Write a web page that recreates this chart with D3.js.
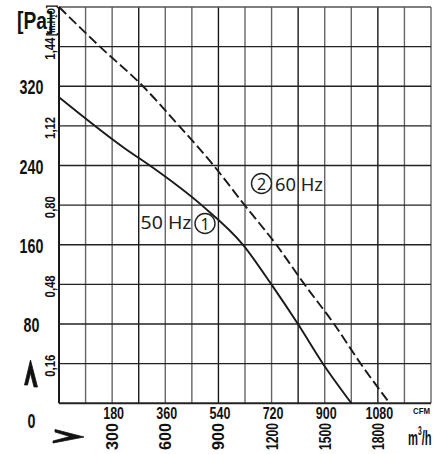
<!DOCTYPE html>
<html>
<head>
<meta charset="utf-8">
<script src="https://cdn.jsdelivr.net/npm/d3@7"></script>
<style>
  html, body { margin: 0; padding: 0; background: #fff; }
  svg { display: block; }
  .num { font-family: "Liberation Sans", Arial, sans-serif; font-weight: bold; fill: #111; }
  .lbl { font-family: "Noto Sans", "DejaVu Sans", sans-serif; fill: #222; }
</style>
</head>
<body>
<svg id="chart" width="434" height="454"></svg>
<script>
// ---- data ----
const flow50 = [0, 382, 513, 805, 1039, 1199, 1349, 1490, 1651];      // m³/h
const pres50 = [309, 256, 240, 200, 160, 120, 80, 40, 0];             // Pa
const flow60 = [0, 231, 474, 678, 873, 1048, 1227, 1386, 1553, 1703, 1867];
const pres60 = [400, 360, 320, 280, 240, 200, 160, 120, 80, 40, 0];
const paTicks = [0, 80, 160, 240, 320];
const inTicks = [0.16, 0.48, 0.80, 1.12, 1.44];
const cfmTicks = [180, 360, 540, 720, 900, 1080];
const m3hTicks = [300, 600, 900, 1200, 1500, 1800];
const seriesNames = ["50 Hz", "60 Hz"];
const seriesMarks = ["1", "2"];

const svg = d3.select("#chart");
const L = 59, R = 431, T = 7, B = 403.3;

const x = d3.scaleLinear().domain([0, 2100]).range([L, R]);
const xCfm = d3.scaleLinear().domain([0, 1260]).range([L, R]);
const y = d3.scaleLinear().domain([0, 400]).range([B, T]);
const yIn = d3.scaleLinear().domain([0, 1.6]).range([B, T]);

function condense(sel, k) {
  sel.each(function () {
    const w = this.getComputedTextLength();
    d3.select(this).attr("textLength", w * k).attr("lengthAdjust", "spacingAndGlyphs");
  });
}

// ---- grid ----
const g = svg.append("g");
const vTicks = d3.range(0, 2101, 150);
g.selectAll("line.v").data(vTicks).join("line")
  .attr("x1", d => x(d)).attr("x2", d => x(d))
  .attr("y1", T).attr("y2", B)
  .attr("stroke", (d, i) => (i % 3 === 0 && i < 14) ? "#1a1a1a" : "#666")
  .attr("stroke-width", (d, i) => i === 0 ? 2 : 1.4);
const hTicks = d3.range(0, 401, 40);
g.selectAll("line.h").data(hTicks).join("line")
  .attr("x1", L).attr("x2", R)
  .attr("y1", d => y(d)).attr("y2", d => y(d))
  .attr("stroke", (d, i) => i === 10 ? "#555" : "#222")
  .attr("stroke-width", d => d === 0 ? 2 : 1.4);

// ---- curves ----
const line = d3.line().x(d => x(d[0])).y(d => y(d[1])).curve(d3.curveMonotoneX);
const d50 = flow50.map((q, i) => [q, pres50[i]]);
const d60 = flow60.map((q, i) => [q, pres60[i]]);
svg.append("path").attr("d", line(d60)).attr("fill", "none")
  .attr("stroke", "#1a1a1a").attr("stroke-width", 1.9).attr("stroke-dasharray", "10,4");
svg.append("path").attr("d", line(d50)).attr("fill", "none")
  .attr("stroke", "#1a1a1a").attr("stroke-width", 1.9);

// ---- series labels ----
svg.append("text").attr("class", "lbl").attr("x", 140.5).attr("y", 228.5)
  .attr("font-size", 18).attr("textLength", 51).attr("lengthAdjust", "spacingAndGlyphs")
  .text(seriesNames[0]);
svg.append("circle").attr("cx", 205).attr("cy", 223.5).attr("r", 10)
  .attr("fill", "#fff").attr("stroke", "#222").attr("stroke-width", 1.4);
svg.append("text").attr("class", "lbl").attr("x", 205).attr("y", 229.5)
  .attr("text-anchor", "middle").attr("font-size", 16).text(seriesMarks[0]);

svg.append("circle").attr("cx", 261.5).attr("cy", 183.5).attr("r", 10)
  .attr("fill", "#fff").attr("stroke", "#222").attr("stroke-width", 1.4);
svg.append("text").attr("class", "lbl").attr("x", 261.5).attr("y", 189.5)
  .attr("text-anchor", "middle").attr("font-size", 16).text(seriesMarks[1]);
svg.append("text").attr("class", "lbl").attr("x", 275).attr("y", 191)
  .attr("font-size", 18).attr("textLength", 48).attr("lengthAdjust", "spacingAndGlyphs")
  .text(seriesNames[1]);

// ---- Pa axis labels ----
svg.selectAll("text.pa").data(paTicks).join("text")
  .attr("class", "num pa")
  .attr("x", 31.5)
  .attr("y", d => d === 0 ? y(0) + 25 : y(d) + 8)
  .attr("text-anchor", "middle")
  .attr("font-size", 21)
  .text(d => d)
  .call(condense, 0.68);

svg.append("g").attr("transform", "translate(17,29) scale(0.8,1)")
  .append("text").attr("class", "num")
  .attr("font-size", 24)
  .text("[Pa]");

// ---- in.H2O labels (rotated) ----
const fmtIn = v => d3.format(".2f")(v).replace(".", ",");
svg.selectAll("text.inw").data(inTicks).join("text")
  .attr("class", "num inw")
  .attr("transform", d => `translate(55,${yIn(d) + 2}) rotate(-90)`)
  .attr("text-anchor", "middle")
  .attr("font-size", 14)
  .attr("textLength", 22).attr("lengthAdjust", "spacingAndGlyphs")
  .text(fmtIn);

const inUnit = svg.append("text").attr("class", "num")
  .attr("transform", "translate(55,36) rotate(-90)")
  .attr("font-size", 11);
inUnit.append("tspan").attr("font-size", 13).text("[");
inUnit.append("tspan").text("in.H");
inUnit.append("tspan").attr("font-size", 7).attr("dy", 2).text("2");
inUnit.append("tspan").attr("dy", -2).text("O");
inUnit.append("tspan").attr("font-size", 13).text("]");
inUnit.attr("textLength", 31).attr("lengthAdjust", "spacingAndGlyphs");

// ---- CFM labels ----
svg.selectAll("text.cfm").data(cfmTicks).join("text")
  .attr("class", "num cfm")
  .attr("x", d => xCfm(d) + 1.5)
  .attr("y", 418.5)
  .attr("text-anchor", "middle")
  .attr("font-size", 16)
  .text(d => d)
  .call(condense, 0.78);

svg.append("text").attr("class", "num").attr("x", 413).attr("y", 413.5)
  .attr("font-size", 9)
  .attr("textLength", 17).attr("lengthAdjust", "spacingAndGlyphs").text("CFM");

// ---- m³/h labels (rotated) ----
svg.selectAll("text.m3h").data(m3hTicks).join("text")
  .attr("class", "num m3h")
  .attr("transform", d => `translate(${x(d) + 6},436.5) rotate(-90)`)
  .attr("text-anchor", "middle")
  .attr("font-size", 17)
  .attr("textLength", 27).attr("lengthAdjust", "spacingAndGlyphs")
  .text(d => d);

const mu = svg.append("g").attr("transform", "translate(408,445) scale(0.56,1)")
  .append("text").attr("class", "num").attr("font-size", 20);
mu.append("tspan").text("m");
mu.append("tspan").attr("font-size", 12).attr("dy", -10).text("3");
mu.append("tspan").attr("dy", 10).text("/h");

// ---- direction arrows ----
svg.append("path")
  .attr("d", "M30.5,360 L37.5,387 L34,387 L30.5,373 L27.5,385 L24.5,385 Z")
  .attr("fill", "#111").attr("stroke", "#111").attr("stroke-width", 0.8).attr("stroke-linejoin", "round");
svg.append("path")
  .attr("d", "M84,437 L55,429.5 L55,432 L70,436.5 L53,441 L53,443 Z")
  .attr("fill", "#111").attr("stroke", "#111").attr("stroke-width", 0.8).attr("stroke-linejoin", "round");
</script>
</body>
</html>
